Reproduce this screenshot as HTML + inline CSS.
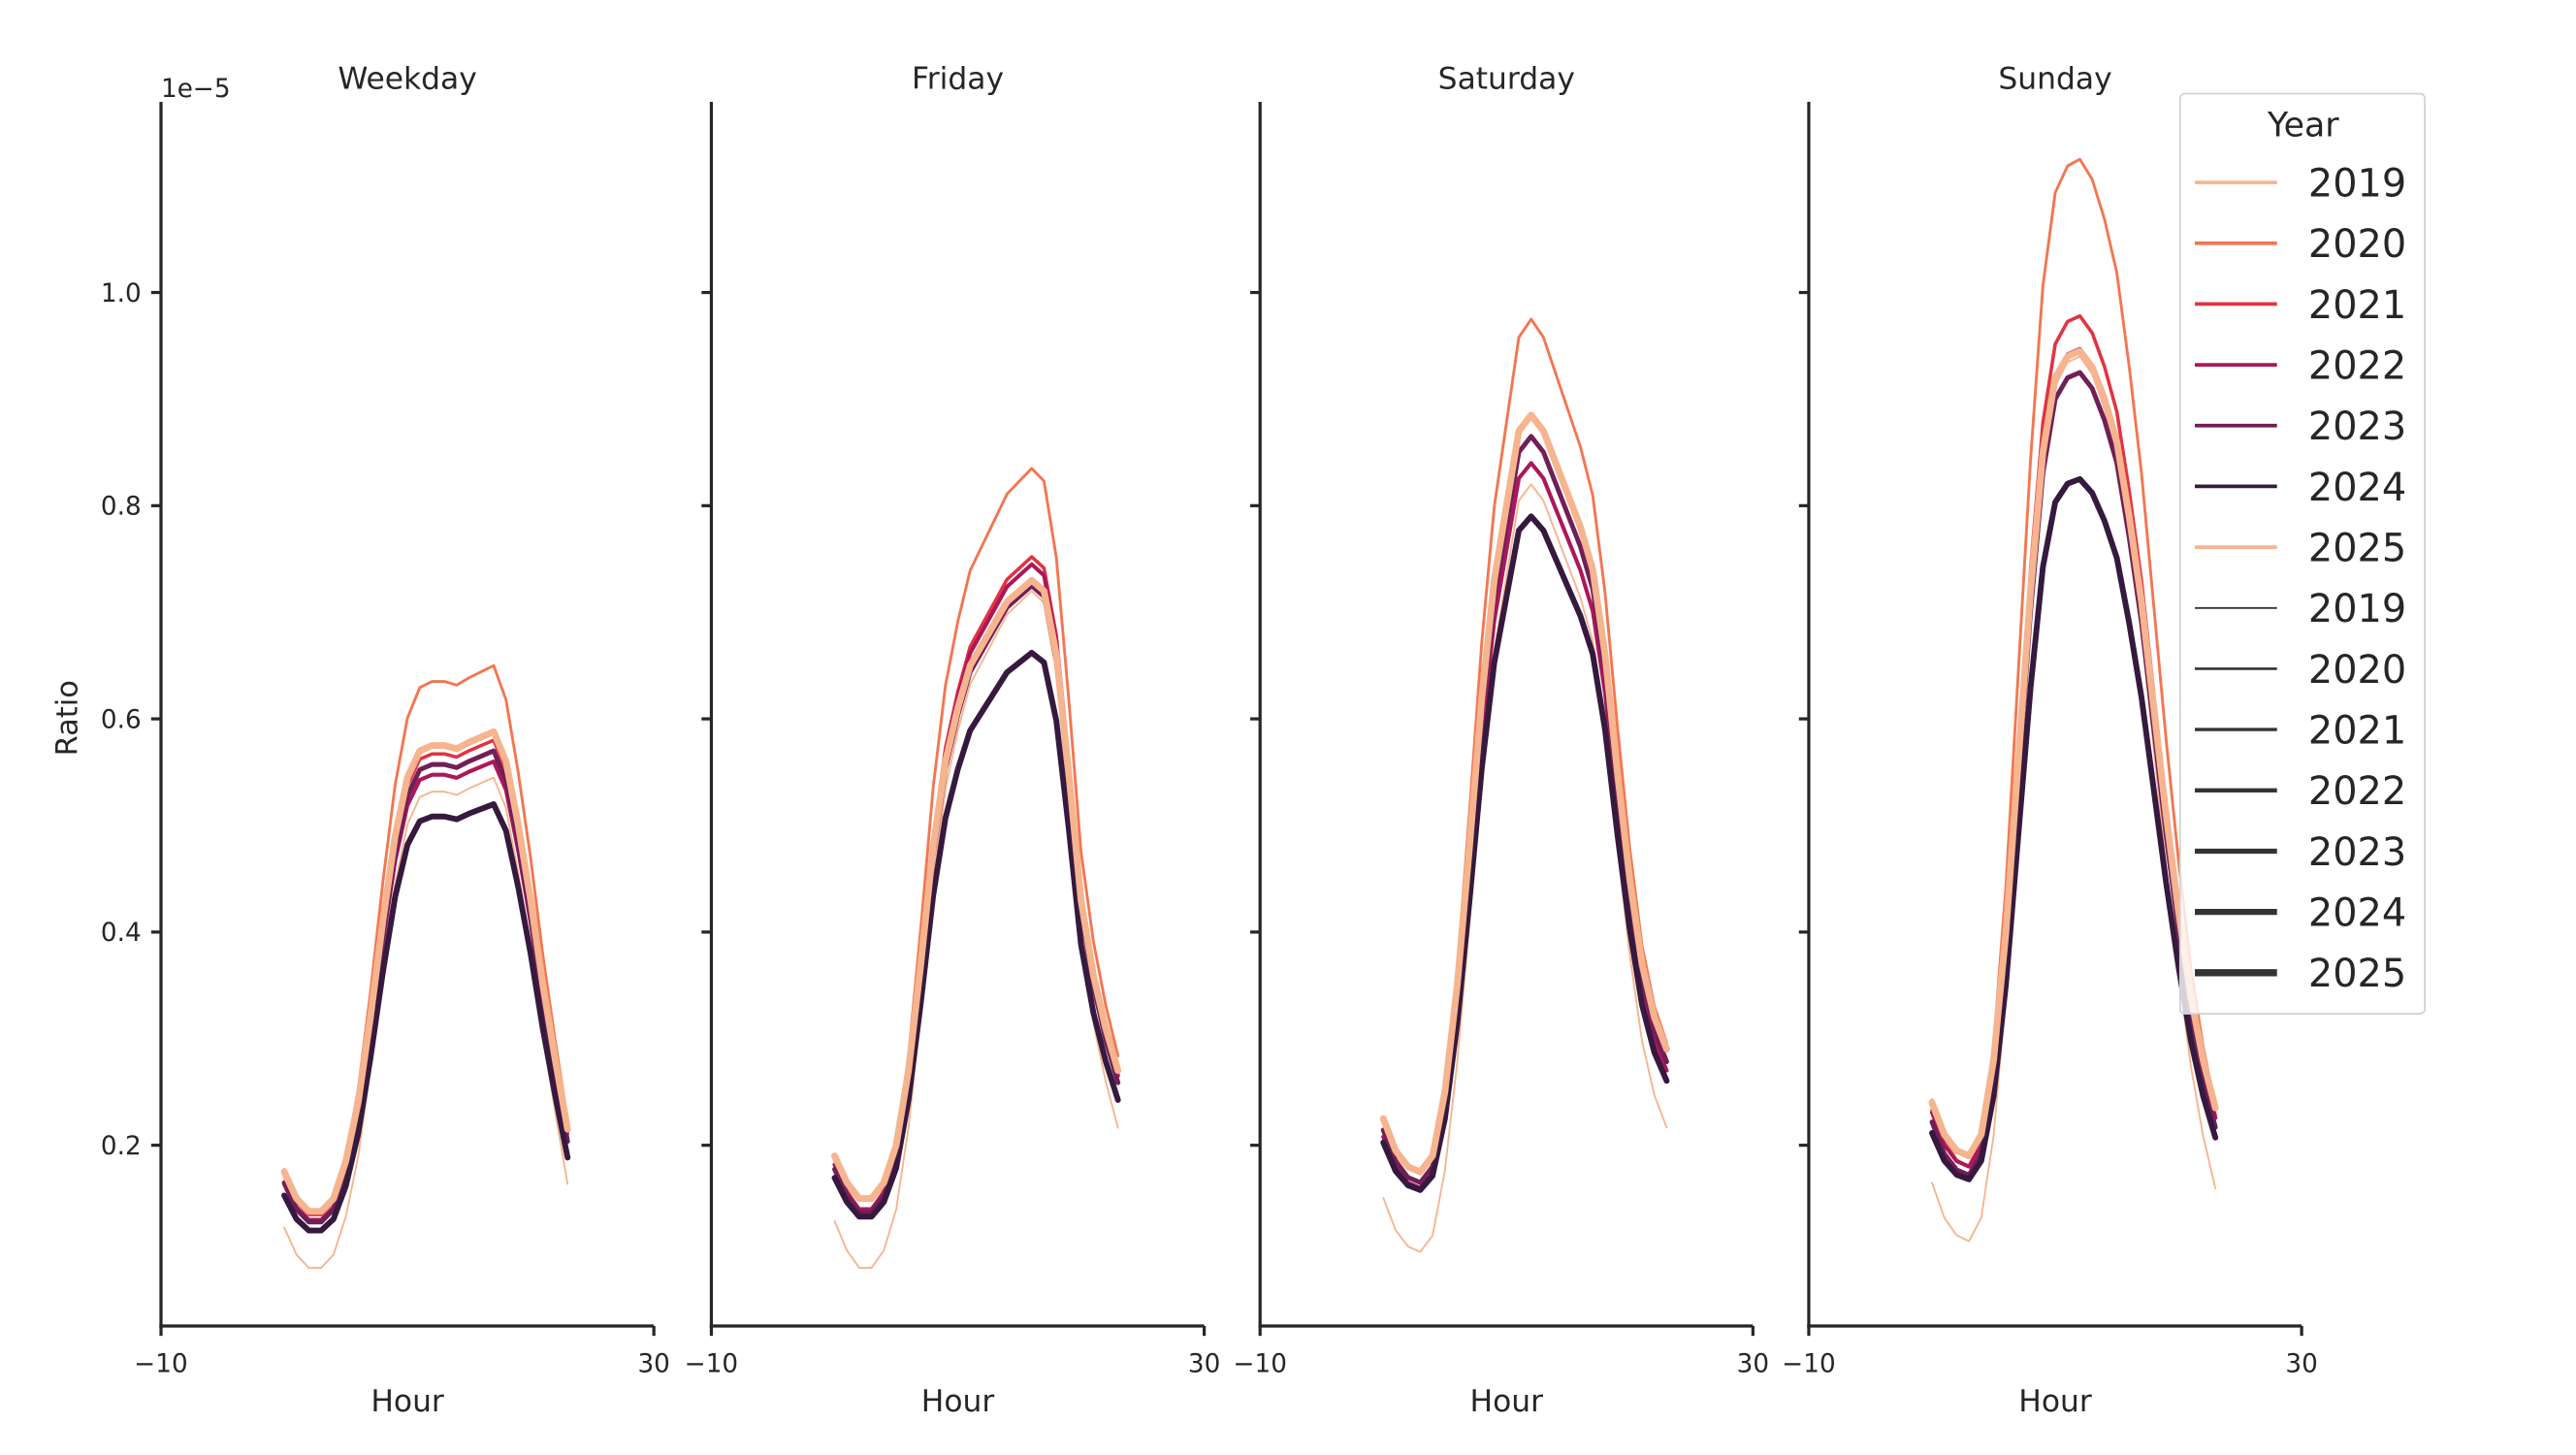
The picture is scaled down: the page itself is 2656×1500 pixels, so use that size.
<!DOCTYPE html>
<html><head><meta charset="utf-8"><style>
html,body{margin:0;padding:0;background:#fff}
svg{display:block}
text{font-family:"DejaVu Sans","Liberation Sans",sans-serif;fill:#262626}
</style></head><body>
<svg id="s" width="2656" height="1500" viewBox="0 0 1568 885.5" xmlns="http://www.w3.org/2000/svg">
<rect width="1568" height="885.5" fill="#fff"/>
<g id="plots"></g>
<g id="axes"></g>
<text x="98" y="59" font-size="15.5">1e−5</text>
<text x="47" y="437" font-size="18" text-anchor="middle" transform="rotate(-90 47 437)">Ratio</text>
<g id="legend"></g>
</svg>
<script>
var NS="http://www.w3.org/2000/svg";
function el(p,t,a,txt){var e=document.createElementNS(NS,t);for(var k in a)e.setAttribute(k,a[k]);if(txt!==undefined)e.textContent=txt;p.appendChild(e);return e;}
var plots=document.getElementById('plots'),axes=document.getElementById('axes'),leg=document.getElementById('legend');
var colors=['#f6b48f','#f37651','#e13342','#ad1759','#701f57','#35193e','#f6b48f'];
var widths=[1.1,1.7,2.1,2.4,2.9,3.5,4.1];
function Y(v){return 826.75-v*648.75;}
var panels=[
{x0:98,title:'Weekday',base:[0.175,0.15,0.138,0.138,0.15,0.185,0.24,0.32,0.41,0.49,0.545,0.57,0.575,0.575,0.572,0.578,0.583,0.588,0.56,0.5,0.43,0.35,0.28,0.215],
 yrs:[[0.085,0.545],[0.135,0.65],[0.135,0.58],[0.13,0.56],[0.128,0.57],[0.12,0.52]]},
{x0:433,title:'Friday',base:[0.19,0.165,0.15,0.15,0.165,0.2,0.27,0.37,0.48,0.56,0.61,0.65,0.67,0.69,0.71,0.72,0.73,0.72,0.66,0.55,0.43,0.36,0.31,0.27],
 yrs:[[0.085,0.72],[0.14,0.835],[0.14,0.752],[0.14,0.745],[0.137,0.725],[0.133,0.662]]},
{x0:767,title:'Saturday',base:[0.225,0.195,0.18,0.175,0.19,0.25,0.35,0.48,0.62,0.73,0.8,0.87,0.885,0.87,0.84,0.81,0.78,0.74,0.66,0.55,0.45,0.37,0.32,0.29],
 yrs:[[0.10,0.82],[0.165,0.975],[0.16,0.84],[0.16,0.84],[0.165,0.865],[0.158,0.79]]},
{x0:1101,title:'Sunday',base:[0.24,0.21,0.195,0.19,0.21,0.28,0.4,0.56,0.72,0.85,0.92,0.94,0.945,0.93,0.9,0.86,0.79,0.71,0.61,0.51,0.42,0.34,0.28,0.235],
 yrs:[[0.11,0.94],[0.18,1.125],[0.18,0.978],[0.18,0.947],[0.172,0.925],[0.168,0.825]]}
];
panels.forEach(function(p,pi){
  var mb=Math.min.apply(null,p.base),pb=Math.max.apply(null,p.base);
  for(var yi=0;yi<7;yi++){
    var m=mb,k=1;
    if(yi<6){m=p.yrs[yi][0];k=(p.yrs[yi][1]-m)/(pb-mb);}
    var d='';
    for(var h=0;h<24;h++){
      var v=m+(p.base[h]-mb)*k;
      var x=p.x0+75+7.5*h;
      d+=(h?'L':'M')+x.toFixed(2)+' '+Y(v).toFixed(2);
    }
    el(plots,'path',{d:d,fill:'none',stroke:colors[yi],'stroke-width':widths[yi],'stroke-linejoin':'round','stroke-linecap':'round'});
  }
  var x0=p.x0;
  el(axes,'line',{x1:x0,y1:62,x2:x0,y2:808,stroke:'#262626','stroke-width':1.9});
  el(axes,'line',{x1:x0-1,y1:807,x2:x0+300,y2:807,stroke:'#262626','stroke-width':1.9});
  [0.2,0.4,0.6,0.8,1.0].forEach(function(v){
    var y=Y(v);
    el(axes,'line',{x1:x0-6,y1:y,x2:x0,y2:y,stroke:'#262626','stroke-width':1.9});
    if(pi==0)el(axes,'text',{x:x0-12,y:y+5.5,'font-size':15.5,'text-anchor':'end'},v.toFixed(1));
  });
  [[x0,'−10'],[x0+300,'30']].forEach(function(t){
    el(axes,'line',{x1:t[0],y1:807,x2:t[0],y2:813,stroke:'#262626','stroke-width':1.9});
    el(axes,'text',{x:t[0],y:835,'font-size':15.5,'text-anchor':'middle'},t[1]);
  });
  el(axes,'text',{x:x0+150,y:859,'font-size':18.5,'text-anchor':'middle'},'Hour');
  el(axes,'text',{x:x0+150,y:54,'font-size':18.5,'text-anchor':'middle'},p.title);
});
el(leg,'rect',{x:1327,y:57,width:149,height:560,rx:3,fill:'#fff','fill-opacity':0.8,stroke:'#d0d0d0','stroke-width':1});
el(leg,'text',{x:1402,y:83,'font-size':20.5,'text-anchor':'middle'},'Year');
var names=['2019','2020','2021','2022','2023','2024','2025'];
for(var i=0;i<14;i++){
  var y=111+i*37;
  var c=i<7?colors[i]:'#333';
  var w=i<7?2.2:[1.1,1.5,2,2.6,3.1,3.7,4.3][i-7];
  el(leg,'line',{x1:1336,y1:y,x2:1386,y2:y,stroke:c,'stroke-width':w});
  el(leg,'text',{x:1405,y:y+8.5,'font-size':23.5},names[i%7]);
}
</script>
</body></html>
